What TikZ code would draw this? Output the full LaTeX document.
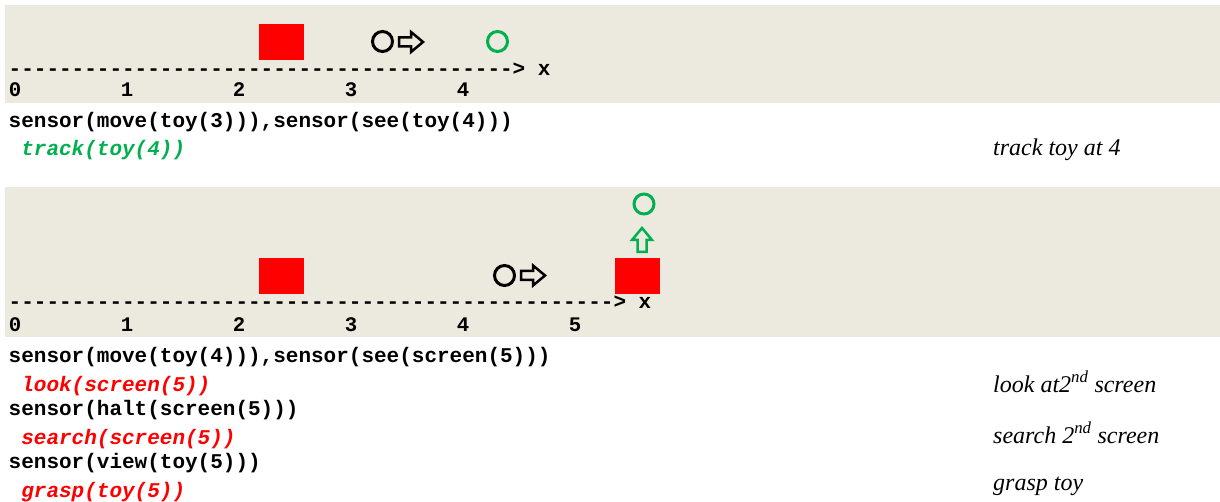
\documentclass[tikz,border=0pt]{standalone}
\usepackage{fontspec}
\setmainfont{Liberation Serif}
\setmonofont{Liberation Mono}
\definecolor{panel}{RGB}{236,233,222}
\definecolor{tgreen}{RGB}{0,176,80}
\begin{document}
\begin{tikzpicture}[x=1pt,y=-1pt,
  code/.style={anchor=base west,inner sep=0pt,font=\fontsize{21}{21}\selectfont\ttfamily\bfseries},
  act/.style={anchor=base west,inner sep=0pt,font=\fontsize{21}{21}\selectfont\ttfamily\bfseries\itshape},
  num/.style={anchor=base,inner sep=0pt,font=\fontsize{20.7}{21}\selectfont\ttfamily\bfseries},
  note/.style={anchor=base west,inner sep=0pt,font=\fontsize{24}{24}\selectfont\itshape},
  panelbg/.style={fill=panel,draw=none},
  box/.style={fill=red,draw=none},
  ring/.style={line width=3pt},
  blockarrow/.style={line width=2.5pt,line join=miter}]
\useasboundingbox[fill=white] (0,0) rectangle (1220,502);
% panels
\fill[panelbg] (5,5) rectangle (1220,103);
\fill[panelbg] (5,187) rectangle (1220,337);

% ---------- top scene ----------
\fill[box] (259,24) rectangle (304,60);
\draw[ring] (382.5,41.5) circle[radius=10];
\draw[blockarrow] (399,37.5) -- (411,37.5) -- (411,32) -- (423,42) -- (411,52) -- (411,46.5) -- (399,46.5) -- cycle;
\draw[ring,tgreen] (497.5,41.5) circle[radius=10];
\node[code] (axisA) at (8.5,76) {----------------------------------------> x};
\node[num] (a0) at (15,97) {0};
\node[num] (a1) at (127,97) {1};
\node[num] (a2) at (239,97) {2};
\node[num] (a3) at (351,97) {3};
\node[num] (a4) at (463,97) {4};

\node[code] (s1) at (8.5,128) {sensor(move(toy(3))),sensor(see(toy(4)))};
\node[act,text=tgreen] (t1) at (21.1,156) {track(toy(4))};
\node[note] (r1) at (993,156) {track toy at 4};

% ---------- bottom scene ----------
\fill[box] (259,258) rectangle (304,294);
\fill[box] (615,258) rectangle (660,294);
\draw[ring] (504.5,275.5) circle[radius=10];
\draw[blockarrow] (521,271) -- (533,271) -- (533,265.5) -- (545,275.5) -- (533,285.5) -- (533,280) -- (521,280) -- cycle;
\draw[ring,tgreen] (644,204) circle[radius=10];
\draw[blockarrow,tgreen] (637.5,252) -- (637.5,240) -- (632,240) -- (642,228) -- (652,240) -- (646.5,240) -- (646.5,252) -- cycle;
\node[code] (axisB) at (8.5,309) {------------------------------------------------> x};
\node[num] (b0) at (15,331) {0};
\node[num] (b1) at (127,331) {1};
\node[num] (b2) at (239,331) {2};
\node[num] (b3) at (351,331) {3};
\node[num] (b4) at (463,331) {4};
\node[num] (b5) at (575,331) {5};

\node[code] (s2) at (8.5,362) {sensor(move(toy(4))),sensor(see(screen(5)))};
\node[act,text=red] (t2) at (21.1,391) {look(screen(5))};
\node[code] (s3) at (8.5,415) {sensor(halt(screen(5)))};
\node[act,text=red] (t3) at (21.1,444) {search(screen(5))};
\node[code] (s4) at (8.5,468) {sensor(view(toy(5)))};
\node[act,text=red] (t4) at (21.1,497) {grasp(toy(5))};

\node[note] (r2) at (993,392) {look at2\textsuperscript{nd} screen};
\node[note] (r3) at (993,443) {search 2\textsuperscript{nd} screen};
\node[note] (r4) at (993,490) {grasp toy};
\end{tikzpicture}
\end{document}
